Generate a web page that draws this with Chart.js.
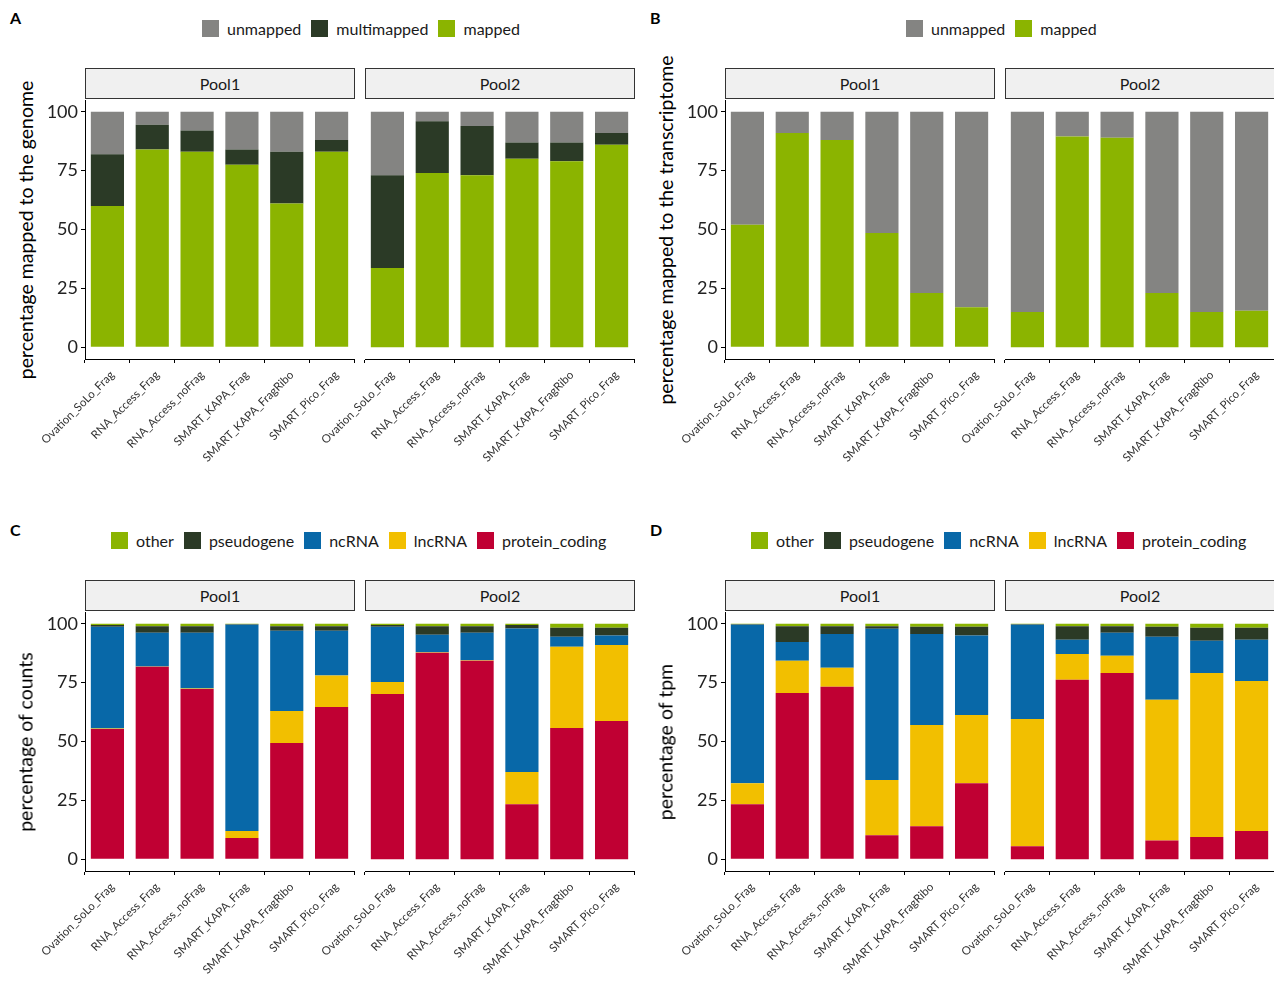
<!DOCTYPE html>
<html><head><meta charset="utf-8">
<script src="https://cdn.jsdelivr.net/npm/chart.js@4.4.0/dist/chart.umd.min.js"></script>
<style>
body{margin:0;background:#fff;font-family:Lato,"DejaVu Sans",sans-serif;}
#wrap{position:relative;width:1274px;height:984px;overflow:hidden;}
canvas{position:absolute;}
.strip{position:absolute;height:31px;background:#f0f0f0;border:1px solid #333;box-sizing:border-box;text-align:center;line-height:30px;font-size:16px;color:#1a1a1a;}
.tag{position:absolute;font-weight:bold;font-size:16px;}
.legend{position:absolute;display:flex;align-items:center;font-size:16px;color:#1a1a1a;white-space:nowrap;}
.legend i{display:inline-block;width:17px;height:17px;margin:0 8px 0 10px;}
.ytitle{position:absolute;width:500px;text-align:center;font-size:19.5px;color:#000;transform:translate(-50%,-50%) rotate(-90deg);white-space:nowrap;}
</style></head><body><div id="wrap"></div>
<script>
const samples = ['Ovation_SoLo_Frag', 'RNA_Access_Frag', 'RNA_Access_noFrag', 'SMART_KAPA_Frag', 'SMART_KAPA_FragRibo', 'SMART_Pico_Frag'];
const yTicks = [0, 25, 50, 75, 100];

// panel A (genome)
const aMapped1 = [60, 84, 83, 77.5, 61, 83];
const aMulti1 = [22, 10.5, 9, 6.5, 22, 5];
const aUnmapped1 = [18, 5.5, 8, 16, 17, 12];
const aMapped2 = [33.6, 74, 73, 80, 79, 86];
const aMulti2 = [39.4, 22, 21, 7, 8, 5];
const aUnmapped2 = [27, 4, 6, 13, 13, 9];

// panel B (transcriptome)
const bMapped1 = [52, 91, 88, 48.5, 23, 17];
const bUnmapped1 = [48, 9, 12, 51.5, 77, 83];
const bMapped2 = [15, 89.5, 89, 23, 15, 15.5];
const bUnmapped2 = [85, 10.5, 11, 77, 85, 84.5];

// panel C (counts)
const cProtein1 = [55.3, 81.7, 72.3, 9, 49.4, 64.7];
const cLnc1 = [0.2, 0.2, 0.2, 3, 13.6, 13.3];
const cNc1 = [43.2, 14.3, 23.7, 87.6, 34, 19];
const cPseudo1 = [0.8, 2.8, 2.8, 0.2, 2, 2];
const cOther1 = [0.5, 1, 1, 0.2, 1, 1];
const cProtein2 = [70.2, 87.7, 84.3, 23.4, 55.7, 58.7];
const cLnc2 = [5.1, 0.2, 0.2, 13.6, 34.5, 32.3];
const cNc2 = [23.4, 7.4, 11.7, 61, 4.3, 4];
const cPseudo2 = [0.8, 3.7, 2.8, 1.5, 3.8, 3.3];
const cOther2 = [0.5, 1, 1, 0.5, 1.7, 1.7];

// panel D (tpm)
const dProtein1 = [23.4, 70.6, 73.2, 10.2, 14, 32.3];
const dLnc1 = [8.9, 13.7, 8.1, 23.4, 43, 29];
const dNc1 = [67.3, 8, 14.4, 64.3, 38.7, 33.7];
const dPseudo1 = [0.2, 6.7, 3.3, 1.1, 3, 3.7];
const dOther1 = [0.2, 1, 1, 1, 1.3, 1.3];
const dProtein2 = [5.5, 76.2, 79.1, 8, 9.4, 12];
const dLnc2 = [54.1, 11, 7.3, 59.7, 69.7, 63.7];
const dNc2 = [40, 6, 9.8, 26.8, 13.7, 17.5];
const dPseudo2 = [0.2, 5.8, 2.8, 4.2, 5.5, 5.1];
const dOther2 = [0.2, 1, 1, 1.3, 1.7, 1.7];

const col = { unmapped: '#848482', multimapped: '#2b3a26', mapped: '#8bb400', other: '#8bb400', pseudogene: '#2b3a26', ncRNA: '#0868a8', lncRNA: '#f2bf00', protein_coding: '#c00033' };
const wrap = document.getElementById('wrap');

const xLabels = {
  id: 'xlab',
  afterDraw(chart) {
    const ctx = chart.ctx, xs = chart.scales.x;
    ctx.save();
    ctx.font = '11.5px Lato, sans-serif';
    ctx.fillStyle = '#333';
    ctx.textAlign = 'right';
    ctx.textBaseline = 'middle';
    chart.data.labels.forEach((l, i) => {
      ctx.save();
      ctx.translate(xs.getPixelForValue(i) + 5, chart.chartArea.bottom + 14);
      ctx.rotate(-Math.PI / 4);
      ctx.fillText(l, 0, 0);
      ctx.restore();
    });
    ctx.restore();
  }
};

function noPad(s) {
  s.paddingTop = 0; s.paddingBottom = 0; s.paddingLeft = 0; s.paddingRight = 0;
}

function add(html, cls, style) {
  const d = document.createElement('div');
  d.className = cls; d.innerHTML = html; Object.assign(d.style, style);
  wrap.appendChild(d);
}

function facet(px, py, right, series) {
  const c = document.createElement('canvas');
  const left = right ? px + 305 : px;
  const w = right ? 334 : 359;
  c.width = w; c.height = 400;
  Object.assign(c.style, { left: left + 'px', top: (py + 100) + 'px', width: w + 'px', height: '400px' });
  wrap.appendChild(c);
  new Chart(c, {
    type: 'bar',
    data: {
      labels: samples,
      datasets: series.map(([name, data]) => ({ label: name, data, backgroundColor: col[name], borderWidth: 0, categoryPercentage: 1, barPercentage: 0.74 }))
    },
    options: {
      responsive: false, animation: false,
      layout: { padding: { left: right ? 60 : 0, right: 5, top: 0, bottom: 0 } },
      plugins: { legend: { display: false }, tooltip: { enabled: false } },
      scales: {
        x: {
          stacked: true,
          ticks: { display: false },
          grid: { drawOnChartArea: false, drawTicks: true, tickLength: 4, color: '#000' },
          border: { display: true, color: '#000' },
          afterFit: (s) => { s.height = 141; noPad(s); }
        },
        y: {
          stacked: true, display: !right, min: -5, max: 105,
          afterBuildTicks: (s) => { s.ticks = yTicks.map((v) => ({ value: v })); },
          afterFit: (s) => { s.width = right ? 0 : 85; noPad(s); },
          ticks: { color: '#222', font: { size: 18, family: 'Lato' }, padding: 3 },
          grid: { drawOnChartArea: false, drawTicks: true, tickLength: 4, color: '#000' },
          border: { display: true, color: '#000' }
        }
      }
    },
    plugins: [xLabels]
  });
  add(right ? 'Pool2' : 'Pool1', 'strip', { left: (px + (right ? 365 : 85)) + 'px', top: (py + 68) + 'px', width: '270px' });
}

function legend(x, y, names) {
  add(names.map((n) => `<i style="background:${col[n]}"></i>${n}`).join(''), 'legend', { left: x + 'px', top: y + 'px' });
}

function panel(px, py, tag, title, s1, s2, names, lx) {
  add(tag, 'tag', { left: (px + 10) + 'px', top: (py + 8) + 'px' });
  legend(px + lx, py + 19, names);
  add(title, 'ytitle', { left: (px + 25) + 'px', top: (py + 230) + 'px' });
  facet(px, py, false, s1);
  facet(px, py, true, s2);
}

panel(0, 0, 'A', 'percentage mapped to the genome',
  [['mapped', aMapped1], ['multimapped', aMulti1], ['unmapped', aUnmapped1]],
  [['mapped', aMapped2], ['multimapped', aMulti2], ['unmapped', aUnmapped2]],
  ['unmapped', 'multimapped', 'mapped'], 192);
panel(640, 0, 'B', 'percentage mapped to the transcriptome',
  [['mapped', bMapped1], ['unmapped', bUnmapped1]],
  [['mapped', bMapped2], ['unmapped', bUnmapped2]],
  ['unmapped', 'mapped'], 256);
const cNames = ['other', 'pseudogene', 'ncRNA', 'lncRNA', 'protein_coding'];
panel(0, 512, 'C', 'percentage of counts',
  [['protein_coding', cProtein1], ['lncRNA', cLnc1], ['ncRNA', cNc1], ['pseudogene', cPseudo1], ['other', cOther1]],
  [['protein_coding', cProtein2], ['lncRNA', cLnc2], ['ncRNA', cNc2], ['pseudogene', cPseudo2], ['other', cOther2]],
  cNames, 101);
panel(640, 512, 'D', 'percentage of tpm',
  [['protein_coding', dProtein1], ['lncRNA', dLnc1], ['ncRNA', dNc1], ['pseudogene', dPseudo1], ['other', dOther1]],
  [['protein_coding', dProtein2], ['lncRNA', dLnc2], ['ncRNA', dNc2], ['pseudogene', dPseudo2], ['other', dOther2]],
  cNames, 101);
</script></body></html>
